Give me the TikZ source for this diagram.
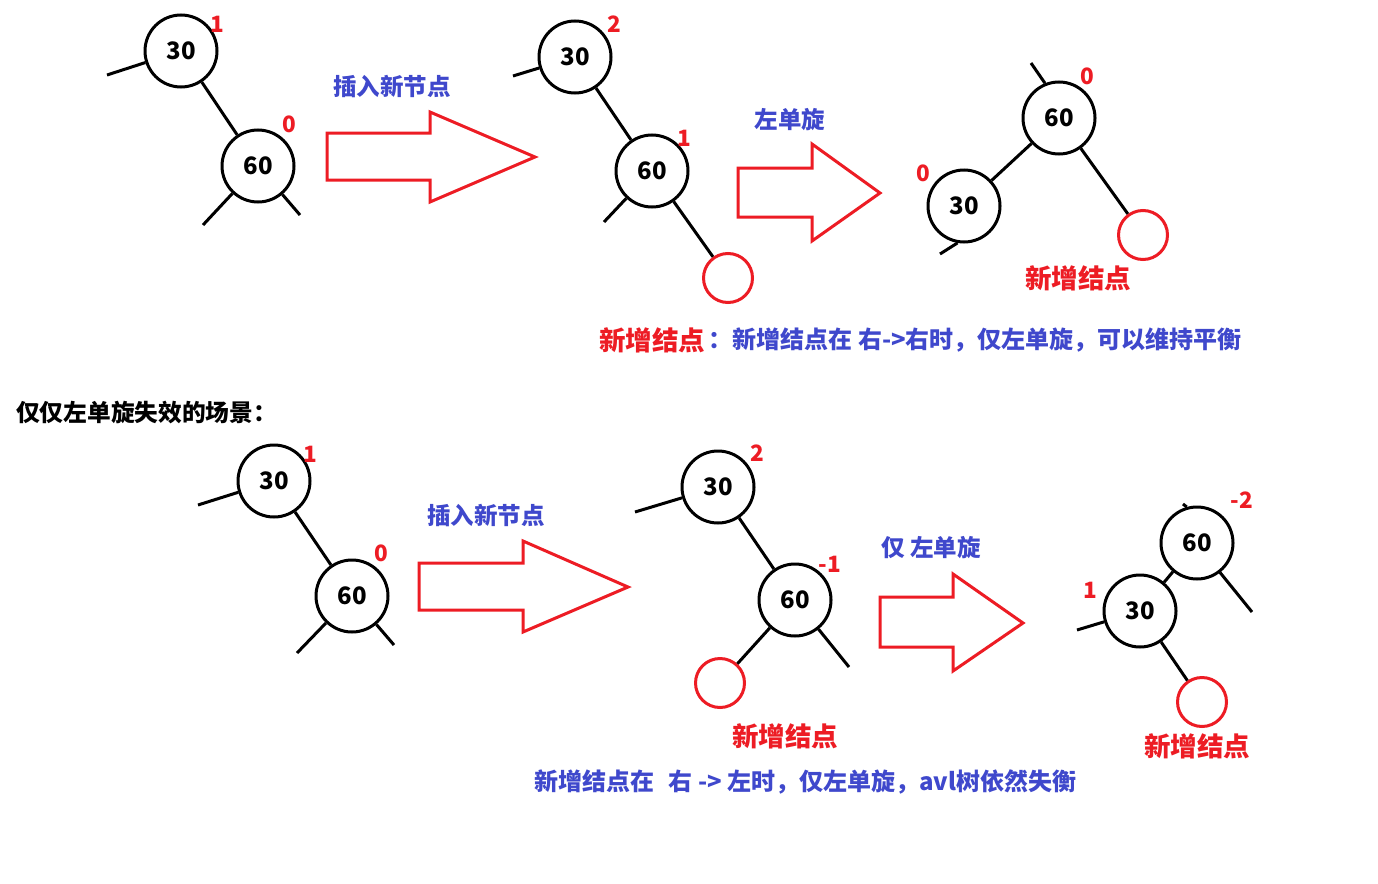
\documentclass[tikz,border=0pt]{standalone}
\usepackage{fontspec}
\setmainfont{Noto Sans CJK SC}
\definecolor{pred}{HTML}{ED1C24}
\definecolor{pblue}{HTML}{3F48CC}
\begin{document}
\begin{tikzpicture}[x=1pt,y=-1pt,
  tn/.style={circle,draw=black,line width=3pt,minimum size=72pt,inner sep=0pt,font=\fontsize{24}{24}\selectfont\bfseries},
  nn/.style={circle,draw=pred,line width=3pt,minimum size=49pt,inner sep=0pt},
  link/.style={line width=3pt,black},
  bal/.style={text=pred,font=\fontsize{22.5}{22}\selectfont\bfseries,inner sep=0pt},
  bigarrow/.style={draw=pred,line width=3pt,line join=miter},
  act/.style={text=pblue,font=\fontsize{23.5}{24}\selectfont\bfseries,inner sep=0pt},
  captxt/.style={text=pblue,font=\fontsize{24}{24}\selectfont\bfseries,inner sep=0pt,anchor=west},
  newlbl/.style={text=pred,font=\fontsize{26.5}{27}\selectfont\bfseries,inner sep=0pt},
]
\useasboundingbox[fill=white] (0,0) rectangle (1378,883);

% ---------- top-left tree ----------
\node[tn] (a30) at (181,51) {30};
\node[tn] (a60) at (258,166) {60};
\coordinate (a30l) at (107,75);
\coordinate (a60l) at (203,225);
\coordinate (a60r) at (300,215);
\draw[link] (a30) -- (a30l);
\draw[link] (a30) -- (a60);
\draw[link] (a60) -- (a60l);
\draw[link] (a60) -- (a60r);
\node[bal] (a30b) at (217,24) {1};
\node[bal] (a60b) at (289,124) {0};

% arrow 1
\draw[bigarrow] (327,133) -- (430,133) -- (430,112) -- (535,157) -- (430,202) -- (430,180) -- (327,180) -- cycle;
\node[act] (t1) at (392,87) {插入新节点};

% ---------- top-middle tree ----------
\node[tn] (b30) at (575,57) {30};
\node[tn] (b60) at (652,171) {60};
\node[nn] (bn) at (728,278) {};
\coordinate (b30l) at (513,76);
\coordinate (b60l) at (604,222);
\draw[link] (b30) -- (b30l);
\draw[link] (b30) -- (b60);
\draw[link] (b60) -- (b60l);
\draw[link] (b60) -- (bn);
\node[bal] (b30b) at (614,24) {2};
\node[bal] (b60b) at (684,138) {1};

% arrow 2
\draw[bigarrow] (738,168) -- (812,168) -- (812,144) -- (880,193) -- (812,241) -- (812,217) -- (738,217) -- cycle;
\node[act] (t2) at (790,120) {左单旋};

% ---------- top-right tree ----------
\node[tn] (c60) at (1059,118) {60};
\node[tn] (c30) at (964,206) {30};
\node[nn] (cn) at (1143,235) {};
\coordinate (c60t) at (1031,63);
\coordinate (c30b) at (940,254);
\draw[link] (c60.112) -- (c60t);
\draw[link] (c60) -- (c30);
\draw[link] (c30.-100) -- (c30b);
\draw[link] (c60) -- (cn);
\node[bal] (c60b) at (1087,76) {0};
\node[bal] (c30b2) at (923,173) {0};
\node[newlbl] (cnl) at (1078,278) {新增结点};

% caption 1
\node[newlbl,anchor=west] (cap1a) at (599,340) {新增结点};
\node[captxt] (cap1b) at ([xshift=3pt]cap1a.east) {：新增结点在 右->右时，仅左单旋，可以维持平衡};

% section title
\node[anchor=west,inner sep=0pt,font=\fontsize{23.7}{24}\selectfont\bfseries] (title) at (16,413) {仅仅左单旋失效的场景：};

% ---------- bottom-left tree ----------
\node[tn] (d30) at (274,481) {30};
\node[tn] (d60) at (352,596) {60};
\coordinate (d30l) at (198,505);
\coordinate (d60l) at (297,653);
\coordinate (d60r) at (394,645);
\draw[link] (d30) -- (d30l);
\draw[link] (d30) -- (d60);
\draw[link] (d60) -- (d60l);
\draw[link] (d60) -- (d60r);
\node[bal] (d30b) at (310,454) {1};
\node[bal] (d60b) at (381,553) {0};

% arrow 3
\draw[bigarrow] (419,563) -- (523,563) -- (523,541) -- (628,587) -- (523,632) -- (523,610) -- (419,610) -- cycle;
\node[act] (t3) at (486,516) {插入新节点};

% ---------- bottom-middle tree ----------
\node[tn] (e30) at (718,487) {30};
\node[tn] (e60) at (795,600) {60};
\node[nn] (en) at (720,683) {};
\coordinate (e30l) at (635,512);
\coordinate (e60r) at (849,667);
\draw[link] (e30) -- (e30l);
\draw[link] (e30) -- (e60);
\draw[link] (e60) -- (en);
\draw[link] (e60) -- (e60r);
\node[bal] (e30b) at (757,453) {2};
\node[bal] (e60b) at (830,564) {-1};
\node[newlbl] (enl) at (785,736) {新增结点};

% arrow 4
\draw[bigarrow] (880,597) -- (953,597) -- (953,574) -- (1023,623) -- (953,671) -- (953,647) -- (880,647) -- cycle;
\node[act] (t4) at (931,548) {仅 左单旋};

% ---------- bottom-right tree ----------
\node[tn] (f60) at (1197,543) {60};
\node[tn] (f30) at (1140,611) {30};
\node[nn] (fn) at (1202,702) {};
\coordinate (f60t) at (1183,504);
\coordinate (f60r) at (1252,612);
\coordinate (f30l) at (1077,630);
\draw[link] (f60.106) -- (f60t);
\draw[link] (f60) -- (f30);
\draw[link] (f60.-52) -- (f60r);
\draw[link] (f30) -- (f30l);
\draw[link] (f30) -- (fn);
\node[bal] (f60b) at (1242,500) {-2};
\node[bal] (f30b) at (1090,590) {1};
\node[newlbl] (fnl) at (1197,746) {新增结点};

% caption 2
\node[captxt] (cap2) at (534,782) {新增结点在\hspace{0.6em}右 -> 左时，仅左单旋，avl树依然失衡};
\end{tikzpicture}
\end{document}
